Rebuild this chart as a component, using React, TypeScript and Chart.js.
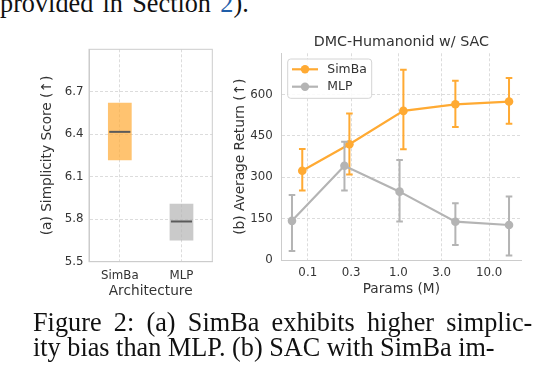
import React, { useEffect, useRef } from 'react';
import { Chart, registerables } from 'chart.js';

Chart.register(...registerables);

const FONT = "'DejaVu Sans', sans-serif";
const TEXT = '#333333';
const GRID = '#dcdcdc';
const SPINE = '#cccccc';
const ORANGE = '#FFAA33';
const GRAY = '#B4B4B4';
const TICK_SIZE = 11.8;
const LABEL_SIZE = 13.7;

// (a) Simplicity score per architecture
const archLabels = ['SimBa', 'MLP'];
const scoreLow = [6.216, 5.649];
const scoreHigh = [6.622, 5.909];
const scoreMedian = [6.417, 5.784];
const scoreTicks = [5.5, 5.8, 6.1, 6.4, 6.7];

// (b) DMC-Humanoid w/ SAC
const chartTitle = 'DMC-Humanonid w/ SAC';
const seriesNames = ['SimBa', 'MLP'];
const simbaParams = [0.087, 0.288, 1.135, 4.25, 16.6];
const simbaReturn = [324, 420, 541, 565, 575];
const simbaLow = [252, 310, 402, 483, 494];
const simbaHigh = [403, 532, 690, 650, 660];
const mlpParams = [0.067, 0.254, 1.03, 4.25, 16.6];
const mlpReturn = [142, 342, 248, 139, 127];
const mlpLow = [33, 252, 140, 54, 16];
const mlpHigh = [236, 429, 363, 206, 230];
const paramTicks = [0.1, 0.3, 1, 3, 10];
const returnTicks = [0, 150, 300, 450, 600];

const errLow = [simbaLow, mlpLow];
const errHigh = [simbaHigh, mlpHigh];

const medianPlugin = {
  id: 'medianLines',
  afterDatasetsDraw(chart: any) {
    const { ctx } = chart;
    const y = chart.scales.y;
    const meta = chart.getDatasetMeta(0);
    ctx.save();
    ctx.strokeStyle = '#5a5a5a';
    ctx.lineWidth = 2;
    meta.data.forEach((bar: any, i: number) => {
      const py = y.getPixelForValue(scoreMedian[i]);
      const half = bar.width / 2;
      ctx.beginPath();
      ctx.moveTo(bar.x - half + 1.3, py);
      ctx.lineTo(bar.x + half - 1.3, py);
      ctx.stroke();
    });
    ctx.restore();
  },
};

const framePlugin = {
  id: 'frame',
  afterDraw(chart: any) {
    const { ctx, chartArea } = chart;
    ctx.save();
    ctx.strokeStyle = SPINE;
    ctx.lineWidth = 1;
    ctx.strokeRect(chartArea.left, chartArea.top, chartArea.right - chartArea.left, chartArea.bottom - chartArea.top);
    ctx.restore();
  },
};

const errorBarPlugin = {
  id: 'errorBars',
  beforeDatasetDraw(chart: any, args: any) {
    const ds = chart.data.datasets[args.index];
    const lows = errLow[args.index];
    const highs = errHigh[args.index];
    const { ctx } = chart;
    const y = chart.scales.y;
    ctx.save();
    ctx.strokeStyle = ds.borderColor;
    ctx.lineWidth = 2;
    args.meta.data.forEach((pt: any, i: number) => {
      const yl = y.getPixelForValue(lows[i]);
      const yh = y.getPixelForValue(highs[i]);
      ctx.beginPath();
      ctx.moveTo(pt.x, yl);
      ctx.lineTo(pt.x, yh);
      ctx.moveTo(pt.x - 3.3, yl);
      ctx.lineTo(pt.x + 3.3, yl);
      ctx.moveTo(pt.x - 3.3, yh);
      ctx.lineTo(pt.x + 3.3, yh);
      ctx.stroke();
    });
    ctx.restore();
  },
};

const titlePlugin = {
  id: 'axTitle',
  afterDraw(chart: any) {
    const { ctx, chartArea } = chart;
    ctx.save();
    ctx.font = `14.3px ${FONT}`;
    ctx.fillStyle = TEXT;
    ctx.textAlign = 'center';
    ctx.textBaseline = 'middle';
    ctx.fillText(chartTitle, (chartArea.left + chartArea.right) / 2, chartArea.top - 10.8);
    ctx.restore();
  },
};

const legendPlugin = {
  id: 'innerLegend',
  afterDraw(chart: any) {
    const { ctx, chartArea } = chart;
    const x0 = chartArea.left + 6;
    const y0 = chartArea.top + 5.7;
    const w = 84;
    const h = 39.3;
    const r = 3;
    ctx.save();
    ctx.beginPath();
    ctx.moveTo(x0 + r, y0);
    ctx.lineTo(x0 + w - r, y0);
    ctx.arcTo(x0 + w, y0, x0 + w, y0 + r, r);
    ctx.lineTo(x0 + w, y0 + h - r);
    ctx.arcTo(x0 + w, y0 + h, x0 + w - r, y0 + h, r);
    ctx.lineTo(x0 + r, y0 + h);
    ctx.arcTo(x0, y0 + h, x0, y0 + h - r, r);
    ctx.lineTo(x0, y0 + r);
    ctx.arcTo(x0, y0, x0 + r, y0, r);
    ctx.closePath();
    ctx.fillStyle = 'rgba(255,255,255,0.85)';
    ctx.fill();
    ctx.strokeStyle = '#d4d4d4';
    ctx.lineWidth = 1;
    ctx.stroke();
    chart.data.datasets.forEach((ds: any, i: number) => {
      const cy = y0 + 10.3 + i * 17.4;
      ctx.strokeStyle = ds.borderColor;
      ctx.lineWidth = 2.2;
      ctx.beginPath();
      ctx.moveTo(x0 + 4.3, cy);
      ctx.lineTo(x0 + 30.3, cy);
      ctx.stroke();
      ctx.fillStyle = ds.borderColor;
      ctx.beginPath();
      ctx.arc(x0 + 17.3, cy, 4.2, 0, Math.PI * 2);
      ctx.fill();
      ctx.fillStyle = TEXT;
      ctx.font = `12.4px ${FONT}`;
      ctx.textAlign = 'left';
      ctx.textBaseline = 'middle';
      ctx.fillText(ds.label, x0 + 39.6, cy);
    });
    ctx.restore();
  },
};

function ScoreChart() {
  const ref = useRef<HTMLCanvasElement | null>(null);
  useEffect(() => {
    if (!ref.current) return;
    const chart = new Chart(ref.current, {
      type: 'bar',
      data: {
        labels: archLabels,
        datasets: [
          {
            data: archLabels.map((_, i) => [scoreLow[i], scoreHigh[i]]) as any,
            backgroundColor: ['rgba(255,170,51,0.7)', 'rgba(180,180,180,0.7)'],
            borderWidth: 0,
            barPercentage: 0.385,
            categoryPercentage: 1,
          },
        ],
      },
      options: {
        animation: false,
        responsive: false,
        maintainAspectRatio: false,
        layout: { padding: { left: 0, right: 7.7, top: 19.3, bottom: 0 } },
        plugins: { legend: { display: false }, tooltip: { enabled: false } },
        scales: {
          x: {
            grid: { offset: false, color: GRID, drawTicks: false, lineWidth: 1 },
            border: { display: true, color: SPINE, dash: [3, 2] },
            ticks: { padding: 6.9, color: TEXT, font: { family: FONT, size: TICK_SIZE } },
            title: {
              display: true,
              text: 'Architecture',
              color: TEXT,
              font: { family: FONT, size: LABEL_SIZE },
              padding: { top: 0, bottom: 10.1 },
            },
            afterFit: (s: any) => {
              s.height = 48.3;
            },
          },
          y: {
            min: 5.5,
            max: 7.0,
            afterBuildTicks: (s: any) => {
              s.ticks = scoreTicks.map((v) => ({ value: v }));
            },
            grid: { color: GRID, drawTicks: false, lineWidth: 1 },
            border: { display: true, color: SPINE, dash: [3, 2] },
            ticks: {
              padding: 5.5,
              color: TEXT,
              font: { family: FONT, size: TICK_SIZE },
              callback: (v: any) => Number(v).toFixed(1),
            },
            title: {
              display: true,
              text: '(a) Simplicity Score (↑)',
              color: TEXT,
              font: { family: FONT, size: LABEL_SIZE },
              padding: { top: 19.3, bottom: 0 },
            },
            afterFit: (s: any) => {
              s.width = 69;
            },
          },
        },
      },
      plugins: [medianPlugin, framePlugin],
    });
    return () => chart.destroy();
  }, []);
  return <canvas ref={ref} width={200} height={280} style={{ position: 'absolute', left: 20, top: 30 }} />;
}

function ReturnChart() {
  const ref = useRef<HTMLCanvasElement | null>(null);
  useEffect(() => {
    if (!ref.current) return;
    const chart = new Chart(ref.current, {
      type: 'line',
      data: {
        datasets: [
          {
            label: seriesNames[0],
            data: simbaParams.map((x, i) => ({ x, y: simbaReturn[i] })),
            borderColor: ORANGE,
            backgroundColor: ORANGE,
            pointBackgroundColor: ORANGE,
            borderWidth: 2.2,
            pointRadius: 4.3,
            pointBorderWidth: 0,
            order: 1,
          },
          {
            label: seriesNames[1],
            data: mlpParams.map((x, i) => ({ x, y: mlpReturn[i] })),
            borderColor: GRAY,
            backgroundColor: GRAY,
            pointBackgroundColor: GRAY,
            borderWidth: 2.2,
            pointRadius: 4.3,
            pointBorderWidth: 0,
            order: 0,
          },
        ],
      },
      options: {
        animation: false,
        responsive: false,
        maintainAspectRatio: false,
        layout: { padding: { left: 0, right: 11, top: 23.3, bottom: 0 } },
        plugins: { legend: { display: false }, tooltip: { enabled: false }, title: { display: false } },
        scales: {
          x: {
            type: 'logarithmic',
            min: 0.0516,
            max: 22.5,
            afterBuildTicks: (s: any) => {
              s.ticks = paramTicks.map((v) => ({ value: v }));
            },
            grid: { color: GRID, drawTicks: false, lineWidth: 1 },
            border: { display: true, color: SPINE, dash: [3, 2] },
            ticks: {
              padding: 6.2,
              autoSkip: false,
              maxRotation: 0,
              color: TEXT,
              font: { family: FONT, size: TICK_SIZE },
              callback: (v: any) => Number(v).toFixed(1),
            },
            title: {
              display: true,
              text: 'Params (M)',
              color: TEXT,
              font: { family: FONT, size: LABEL_SIZE },
              padding: { top: 0, bottom: 12.5 },
            },
            afterFit: (s: any) => {
              s.height = 50;
            },
          },
          y: {
            type: 'linear',
            min: 0,
            max: 750,
            afterBuildTicks: (s: any) => {
              s.ticks = returnTicks.map((v) => ({ value: v }));
            },
            grid: { color: GRID, drawTicks: false, lineWidth: 1 },
            border: { display: true, color: SPINE, dash: [3, 2] },
            ticks: {
              padding: 9,
              color: TEXT,
              font: { family: FONT, size: TICK_SIZE },
            },
            title: {
              display: true,
              text: '(b) Average Return (↑)',
              color: TEXT,
              font: { family: FONT, size: LABEL_SIZE },
              padding: { top: 9.8, bottom: 0 },
            },
            afterFit: (s: any) => {
              s.width = 59.7;
            },
          },
        },
      },
      plugins: [errorBarPlugin, titlePlugin, legendPlugin],
    });
    return () => chart.destroy();
  }, []);
  return <canvas ref={ref} width={310} height={280} style={{ position: 'absolute', left: 222, top: 30 }} />;
}

export default function App() {
  const serif = "'Liberation Serif', 'Times New Roman', serif";
  const lineStyle: React.CSSProperties = {
    position: 'absolute',
    whiteSpace: 'nowrap',
    fontSize: 26.25,
    lineHeight: '26.25px',
    color: '#111',
    transform: 'scaleY(1.05)',
    transformOrigin: '0px 22px',
  };
  return (
    <div
      style={{
        position: 'absolute',
        left: 0,
        top: 0,
        width: 536,
        height: 368,
        overflow: 'hidden',
        background: '#fff',
        fontFamily: serif,
      }}
    >
      <div style={{ ...lineStyle, left: 0, top: -9, wordSpacing: 2.7 }}>
        provided in Section <span style={{ color: '#1f5ea8' }}>2</span>).
      </div>
      <ScoreChart />
      <ReturnChart />
      <div style={{ ...lineStyle, left: 33, top: 309.7, wordSpacing: 5.7 }}>
        Figure 2: (a) SimBa exhibits higher simplic-
      </div>
      <div style={{ ...lineStyle, left: 33, top: 334.7 }}>ity bias than MLP. (b) SAC with SimBa im-</div>
    </div>
  );
}
